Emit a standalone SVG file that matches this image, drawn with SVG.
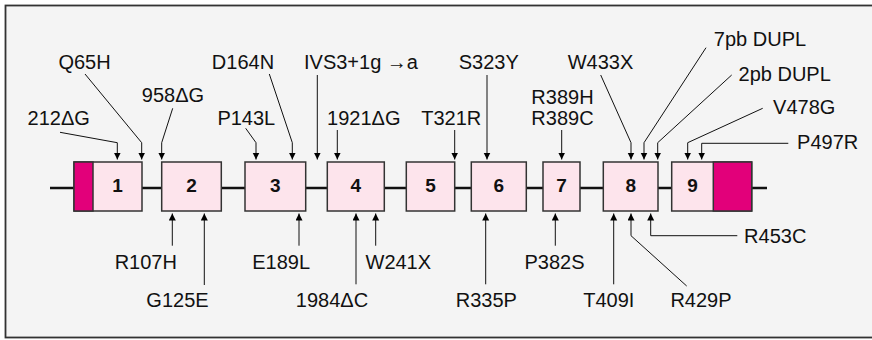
<svg xmlns="http://www.w3.org/2000/svg" width="872" height="340" viewBox="0 0 872 340">
<defs>
<marker id="ah" markerUnits="userSpaceOnUse" markerWidth="8" markerHeight="8" refX="7" refY="3.5" orient="auto">
<path d="M0,0 L7,3.5 L0,7 z" fill="#000"/>
</marker>
<style>
.lbl{font-family:"Liberation Sans",Arial,sans-serif;font-size:20px;fill:#111;text-anchor:middle}
.num{font-family:"Liberation Sans",Arial,sans-serif;font-size:19px;font-weight:bold;fill:#111;text-anchor:middle}
.ex{fill:#fde4ec;stroke:#333;stroke-width:1.5}
.utr{fill:#e2007a;stroke:#333;stroke-width:1.5}
.c{fill:none;stroke:#111;stroke-width:1;marker-end:url(#ah)}
</style>
</defs>
<rect x="0" y="0" width="872" height="340" fill="#fff"/>
<rect x="5.5" y="5.5" width="900" height="332" fill="#f4f4f4" stroke="#333" stroke-width="1.8"/>
<line x1="50" y1="188" x2="767" y2="188" stroke="#111" stroke-width="2.5"/>
<g id="exon1"><rect class="ex" x="74" y="162" width="68" height="49"/><rect class="utr" x="74" y="162" width="19" height="49"/><text class="num" x="117.5" y="192">1</text></g>
<g id="exon2"><rect class="ex" x="161.7" y="162" width="59.6" height="49"/><text class="num" x="191.5" y="192">2</text></g>
<g id="exon3"><rect class="ex" x="245" y="162" width="60.7" height="49"/><text class="num" x="275.3" y="192">3</text></g>
<g id="exon4"><rect class="ex" x="327.3" y="162" width="57" height="49"/><text class="num" x="355.8" y="192">4</text></g>
<g id="exon5"><rect class="ex" x="406.3" y="162" width="48.4" height="49"/><text class="num" x="430.5" y="192">5</text></g>
<g id="exon6"><rect class="ex" x="471.3" y="162" width="55" height="49"/><text class="num" x="498.8" y="192">6</text></g>
<g id="exon7"><rect class="ex" x="543" y="162" width="37" height="49"/><text class="num" x="561.5" y="192">7</text></g>
<g id="exon8"><rect class="ex" x="603.3" y="162" width="54.7" height="49"/><text class="num" x="630.7" y="192">8</text></g>
<g id="exon9"><rect class="ex" x="671.7" y="162" width="80" height="49"/><rect class="utr" x="713.3" y="162" width="38.4" height="49"/><text class="num" x="692.5" y="192">9</text></g>
<g id="connectors">
<polyline class="c" points="60,132.3 117.3,142.7 117.3,159.5"/>
<polyline class="c" points="85,74 141.7,142.7 141.7,159.5"/>
<polyline class="c" points="172.7,108.3 161.7,142.7 161.7,159.5"/>
<polyline class="c" points="245.7,128.3 256,142.7 256,159.5"/>
<polyline class="c" points="269.3,74 292.3,142.7 292.3,159.5"/>
<polyline class="c" points="317.3,75 317.3,159.5"/>
<polyline class="c" points="337.3,130 337.3,159.5"/>
<polyline class="c" points="454.7,130 454.7,159.5"/>
<polyline class="c" points="487,75 487,159.5"/>
<polyline class="c" points="561.7,130 561.7,159.5"/>
<polyline class="c" points="600.7,75 631,142.7 631,159.5"/>
<polyline class="c" points="706,47.7 644,142.7 644,159.5"/>
<polyline class="c" points="731.7,75 657.7,142.7 657.7,159.5"/>
<polyline class="c" points="762.7,108.3 687.7,142.7 687.7,159.5"/>
<polyline class="c" points="788.3,143.3 701.7,143.3 701.7,159.5"/>
<polyline class="c" points="172.3,245.7 172.3,213.5"/>
<polyline class="c" points="204.3,285 204.3,213.5"/>
<polyline class="c" points="299,245.7 299,213.5"/>
<polyline class="c" points="356,284.3 356,213.5"/>
<polyline class="c" points="375.7,245.7 375.7,213.5"/>
<polyline class="c" points="485.7,284.3 485.7,213.5"/>
<polyline class="c" points="555.3,245.7 555.3,213.5"/>
<polyline class="c" points="613.7,284.3 613.7,213.5"/>
<polyline class="c" points="686.7,286 631,235.7 631,213.5"/>
<polyline class="c" points="737.3,235.7 650.7,235.7 650.7,213.5"/>
</g>
<g id="labels">
<text class="lbl" x="84.5" y="69">Q65H</text>
<text class="lbl" x="243" y="69">D164N</text>
<text class="lbl" x="173" y="101.7">958ΔG</text>
<text class="lbl" x="58.7" y="125">212ΔG</text>
<text class="lbl" x="246.3" y="125">P143L</text>
<text class="lbl" x="304" y="69" style="text-anchor:start">IVS3+1g →a</text>
<text class="lbl" x="363.8" y="125">1921ΔG</text>
<text class="lbl" x="451.3" y="125">T321R</text>
<text class="lbl" x="488.8" y="69">S323Y</text>
<text class="lbl" x="562.5" y="104">R389H</text>
<text class="lbl" x="562.5" y="125">R389C</text>
<text class="lbl" x="600.5" y="69">W433X</text>
<text class="lbl" x="760" y="45.7">7pb DUPL</text>
<text class="lbl" x="784.7" y="80.7">2pb DUPL</text>
<text class="lbl" x="804.2" y="114">V478G</text>
<text class="lbl" x="827.7" y="149">P497R</text>
<text class="lbl" x="145.8" y="269">R107H</text>
<text class="lbl" x="177.5" y="307.3">G125E</text>
<text class="lbl" x="281.2" y="269">E189L</text>
<text class="lbl" x="332" y="307.3">1984ΔC</text>
<text class="lbl" x="398.3" y="269">W241X</text>
<text class="lbl" x="486.3" y="307.3">R335P</text>
<text class="lbl" x="554.5" y="269">P382S</text>
<text class="lbl" x="608.8" y="307.3">T409I</text>
<text class="lbl" x="701" y="307.3">R429P</text>
<text class="lbl" x="775.2" y="243.3">R453C</text>
</g>
</svg>
